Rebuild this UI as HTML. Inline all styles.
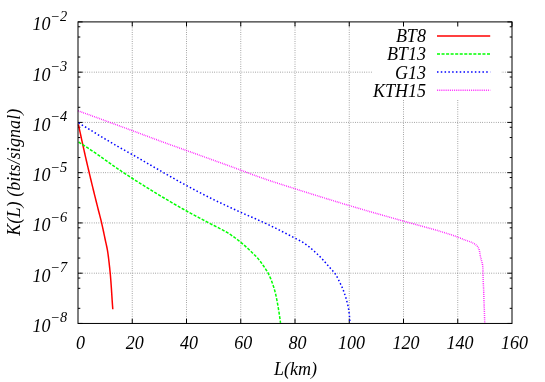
<!DOCTYPE html>
<html><head><meta charset="utf-8"><title>plot</title>
<style>html,body{margin:0;padding:0;background:#fff;}svg{display:block;will-change:transform;}</style>
</head><body>
<svg width="545" height="382" viewBox="0 0 545 382">
<rect x="0" y="0" width="545" height="382" fill="#fff"/>
<g stroke="#000" stroke-width="0.75" stroke-dasharray="0.757 1.514" fill="none" opacity="0.62">
<path d="M78.0,273.19H512.0"/>
<path d="M78.0,222.93H512.0"/>
<path d="M78.0,172.67H512.0"/>
<path d="M78.0,122.42H512.0"/>
<path d="M78.0,72.16H512.0"/>
<path d="M132.25,323.45V21.9"/>
<path d="M186.50,323.45V21.9"/>
<path d="M240.75,323.45V21.9"/>
<path d="M295.00,323.45V21.9"/>
<path d="M349.25,323.45V21.9"/>
<path d="M403.50,323.45V21.9"/>
<path d="M457.75,323.45V21.9"/>
</g>
<rect x="372" y="22.70" width="129" height="77.30" fill="#fff"/>
<g stroke="#000" stroke-width="1" fill="none">
<path d="M78.0,323.45h4.6M512.0,323.45h-4.6"/>
<path d="M78.0,308.32h2.3M512.0,308.32h-2.3"/>
<path d="M78.0,288.32h2.3M512.0,288.32h-2.3"/>
<path d="M78.0,278.06h2.3M512.0,278.06h-2.3"/>
<path d="M78.0,273.19h4.6M512.0,273.19h-4.6"/>
<path d="M78.0,258.06h2.3M512.0,258.06h-2.3"/>
<path d="M78.0,238.06h2.3M512.0,238.06h-2.3"/>
<path d="M78.0,227.80h2.3M512.0,227.80h-2.3"/>
<path d="M78.0,222.93h4.6M512.0,222.93h-4.6"/>
<path d="M78.0,207.80h2.3M512.0,207.80h-2.3"/>
<path d="M78.0,187.80h2.3M512.0,187.80h-2.3"/>
<path d="M78.0,177.55h2.3M512.0,177.55h-2.3"/>
<path d="M78.0,172.67h4.6M512.0,172.67h-4.6"/>
<path d="M78.0,157.55h2.3M512.0,157.55h-2.3"/>
<path d="M78.0,137.55h2.3M512.0,137.55h-2.3"/>
<path d="M78.0,127.29h2.3M512.0,127.29h-2.3"/>
<path d="M78.0,122.42h4.6M512.0,122.42h-4.6"/>
<path d="M78.0,107.29h2.3M512.0,107.29h-2.3"/>
<path d="M78.0,87.29h2.3M512.0,87.29h-2.3"/>
<path d="M78.0,77.03h2.3M512.0,77.03h-2.3"/>
<path d="M78.0,72.16h4.6M512.0,72.16h-4.6"/>
<path d="M78.0,57.03h2.3M512.0,57.03h-2.3"/>
<path d="M78.0,37.03h2.3M512.0,37.03h-2.3"/>
<path d="M78.0,26.77h2.3M512.0,26.77h-2.3"/>
<path d="M78.0,21.90h4.6M512.0,21.90h-4.6"/>
<path d="M132.25,323.45v-4.6M132.25,21.9v4.6"/>
<path d="M186.50,323.45v-4.6M186.50,21.9v4.6"/>
<path d="M240.75,323.45v-4.6M240.75,21.9v4.6"/>
<path d="M295.00,323.45v-4.6M295.00,21.9v4.6"/>
<path d="M349.25,323.45v-4.6M349.25,21.9v4.6"/>
<path d="M403.50,323.45v-4.6M403.50,21.9v4.6"/>
<path d="M457.75,323.45v-4.6M457.75,21.9v4.6"/>
<path d="M512.0,21.9v4.6"/>
</g>
<path d="M78.40,124.40 L78.73,125.95 L79.06,127.50 L79.39,129.04 L79.72,130.59 L80.05,132.14 L80.39,133.69 L80.72,135.24 L81.06,136.78 L81.40,138.33 L81.73,139.88 L82.07,141.42 L82.41,142.97 L82.75,144.51 L83.09,146.06 L83.44,147.61 L83.78,149.15 L84.12,150.70 L84.47,152.24 L84.82,153.79 L85.16,155.33 L85.51,156.87 L85.87,158.42 L86.22,159.96 L86.58,161.50 L86.93,163.04 L87.29,164.59 L87.66,166.13 L88.02,167.67 L88.38,169.21 L88.75,170.75 L89.11,172.29 L89.48,173.83 L89.85,175.37 L90.21,176.91 L90.58,178.45 L90.95,179.99 L91.32,181.53 L91.69,183.07 L92.06,184.61 L92.43,186.14 L92.81,187.68 L93.18,189.22 L93.56,190.76 L93.93,192.30 L94.31,193.83 L94.69,195.37 L95.07,196.91 L95.45,198.44 L95.83,199.98 L96.22,201.52 L96.60,203.05 L96.99,204.59 L97.38,206.12 L97.76,207.66 L98.15,209.19 L98.54,210.73 L98.94,212.26 L99.34,213.79 L99.74,215.32 L100.13,216.86 L100.52,218.39 L100.91,219.93 L101.28,221.46 L101.64,223.00 L101.99,224.55 L102.34,226.09 L102.68,227.64 L103.01,229.19 L103.34,230.73 L103.67,232.28 L103.99,233.83 L104.31,235.38 L104.64,236.93 L104.96,238.48 L105.29,240.03 L105.63,241.58 L105.98,243.13 L106.32,244.67 L106.66,246.22 L106.98,247.77 L107.28,249.32 L107.55,250.88 L107.79,252.44 L108.02,254.01 L108.23,255.58 L108.44,257.15 L108.63,258.72 L108.82,260.29 L109.00,261.87 L109.18,263.44 L109.35,265.01 L109.53,266.59 L109.70,268.16 L109.86,269.73 L110.02,271.31 L110.18,272.89 L110.33,274.46 L110.47,276.04 L110.60,277.62 L110.73,279.19 L110.85,280.77 L110.97,282.35 L111.08,283.93 L111.19,285.51 L111.30,287.09 L111.41,288.67 L111.52,290.25 L111.62,291.83 L111.72,293.41 L111.82,294.99 L111.92,296.57 L112.02,298.15 L112.12,299.73 L112.22,301.31 L112.33,302.89 L112.44,304.46 L112.56,306.04 L112.68,307.62 L112.80,309.20" stroke="#ff0000" stroke-width="1.5" fill="none"/>
<path d="M78.60,142.00 L79.80,142.77 L81.00,143.54 L82.20,144.31 L83.40,145.09 L84.59,145.87 L85.79,146.65 L86.98,147.43 L88.17,148.21 L89.36,149.00 L90.55,149.79 L91.73,150.58 L92.92,151.37 L94.10,152.17 L95.28,152.97 L96.45,153.78 L97.63,154.59 L98.80,155.40 L99.96,156.22 L101.13,157.04 L102.30,157.86 L103.46,158.69 L104.62,159.52 L105.78,160.34 L106.95,161.17 L108.11,162.00 L109.27,162.82 L110.43,163.65 L111.60,164.47 L112.76,165.30 L113.93,166.12 L115.10,166.93 L116.27,167.75 L117.44,168.56 L118.62,169.36 L119.80,170.16 L120.98,170.96 L122.16,171.75 L123.35,172.55 L124.54,173.34 L125.73,174.12 L126.92,174.90 L128.12,175.68 L129.31,176.46 L130.51,177.23 L131.71,178.00 L132.92,178.76 L134.12,179.53 L135.33,180.29 L136.53,181.05 L137.74,181.81 L138.94,182.57 L140.15,183.33 L141.36,184.08 L142.57,184.84 L143.78,185.60 L144.99,186.35 L146.20,187.10 L147.41,187.86 L148.63,188.61 L149.84,189.36 L151.06,190.10 L152.27,190.85 L153.49,191.60 L154.71,192.34 L155.92,193.08 L157.14,193.83 L158.36,194.57 L159.58,195.30 L160.81,196.04 L162.03,196.78 L163.25,197.51 L164.48,198.24 L165.70,198.97 L166.93,199.70 L168.15,200.43 L169.38,201.15 L170.61,201.88 L171.84,202.60 L173.07,203.32 L174.31,204.03 L175.54,204.75 L176.77,205.46 L178.01,206.17 L179.24,206.88 L180.48,207.59 L181.72,208.30 L182.96,209.00 L184.20,209.70 L185.44,210.40 L186.69,211.09 L187.94,211.78 L189.19,212.46 L190.44,213.14 L191.69,213.82 L192.95,214.49 L194.21,215.17 L195.47,215.84 L196.73,216.50 L197.99,217.17 L199.25,217.83 L200.51,218.50 L201.78,219.16 L203.04,219.83 L204.30,220.49 L205.56,221.15 L206.83,221.82 L208.09,222.48 L209.35,223.15 L210.61,223.82 L211.87,224.48 L213.15,225.13 L214.42,225.78 L215.70,226.42 L216.98,227.06 L218.26,227.70 L219.53,228.35 L220.81,229.00 L222.07,229.66 L223.33,230.33 L224.58,231.02 L225.81,231.72 L227.04,232.43 L228.25,233.17 L229.45,233.93 L230.63,234.71 L231.81,235.51 L232.98,236.33 L234.14,237.17 L235.29,238.02 L236.43,238.88 L237.57,239.76 L238.69,240.64 L239.81,241.52 L240.91,242.42 L242.01,243.32 L243.10,244.24 L244.18,245.18 L245.25,246.13 L246.31,247.08 L247.36,248.05 L248.41,249.02 L249.45,250.00 L250.48,250.98 L251.51,251.96 L252.54,252.95 L253.57,253.95 L254.59,254.95 L255.59,255.97 L256.58,257.00 L257.54,258.05 L258.48,259.12 L259.38,260.21 L260.26,261.33 L261.11,262.48 L261.94,263.64 L262.76,264.82 L263.56,266.00 L264.36,267.18 L265.16,268.36 L265.95,269.56 L266.73,270.76 L267.47,271.98 L268.15,273.22 L268.79,274.48 L269.40,275.77 L269.99,277.07 L270.55,278.38 L271.09,279.71 L271.61,281.05 L272.11,282.39 L272.58,283.73 L273.04,285.08 L273.48,286.43 L273.91,287.79 L274.31,289.16 L274.71,290.54 L275.08,291.92 L275.43,293.30 L275.76,294.68 L276.07,296.07 L276.37,297.47 L276.65,298.86 L276.92,300.27 L277.19,301.67 L277.44,303.07 L277.70,304.48 L277.94,305.88 L278.19,307.29 L278.42,308.69 L278.65,310.10 L278.88,311.51 L279.10,312.92 L279.31,314.33 L279.52,315.74 L279.73,317.15 L279.93,318.56 L280.13,319.97 L280.32,321.39 L280.50,322.80" stroke="#00ff00" stroke-width="1.5" fill="none" stroke-dasharray="3.028 1.514"/>
<path d="M78.50,122.80 L79.75,123.57 L81.01,124.34 L82.26,125.11 L83.52,125.88 L84.77,126.65 L86.03,127.41 L87.28,128.18 L88.54,128.94 L89.80,129.71 L91.06,130.47 L92.31,131.23 L93.57,131.99 L94.83,132.75 L96.09,133.51 L97.35,134.27 L98.61,135.03 L99.87,135.79 L101.14,136.54 L102.40,137.30 L103.66,138.05 L104.92,138.81 L106.19,139.57 L107.45,140.32 L108.71,141.07 L109.98,141.83 L111.24,142.58 L112.51,143.33 L113.77,144.08 L115.04,144.82 L116.31,145.56 L117.58,146.30 L118.86,147.04 L120.13,147.78 L121.41,148.50 L122.69,149.23 L123.97,149.95 L125.26,150.66 L126.55,151.37 L127.83,152.09 L129.12,152.80 L130.40,153.52 L131.69,154.24 L132.97,154.96 L134.24,155.69 L135.52,156.42 L136.80,157.15 L138.07,157.88 L139.35,158.62 L140.62,159.35 L141.90,160.09 L143.17,160.83 L144.44,161.57 L145.72,162.30 L146.99,163.04 L148.26,163.78 L149.53,164.52 L150.80,165.26 L152.08,166.00 L153.35,166.74 L154.62,167.48 L155.89,168.21 L157.17,168.95 L158.44,169.68 L159.72,170.42 L160.99,171.15 L162.27,171.88 L163.55,172.61 L164.83,173.34 L166.10,174.07 L167.38,174.80 L168.66,175.53 L169.93,176.26 L171.21,176.99 L172.49,177.72 L173.77,178.45 L175.05,179.18 L176.33,179.90 L177.61,180.63 L178.89,181.35 L180.17,182.07 L181.46,182.79 L182.74,183.50 L184.03,184.21 L185.32,184.91 L186.62,185.62 L187.91,186.32 L189.20,187.01 L190.50,187.71 L191.80,188.40 L193.10,189.10 L194.40,189.78 L195.70,190.47 L197.00,191.16 L198.30,191.84 L199.61,192.52 L200.92,193.20 L202.22,193.87 L203.53,194.54 L204.84,195.21 L206.16,195.87 L207.47,196.54 L208.78,197.19 L210.10,197.85 L211.42,198.50 L212.74,199.15 L214.06,199.80 L215.38,200.44 L216.71,201.08 L218.03,201.72 L219.36,202.35 L220.69,202.99 L222.02,203.62 L223.35,204.25 L224.68,204.87 L226.01,205.50 L227.34,206.12 L228.68,206.74 L230.01,207.36 L231.35,207.98 L232.68,208.60 L234.02,209.22 L235.36,209.83 L236.69,210.45 L238.03,211.06 L239.37,211.67 L240.70,212.28 L242.04,212.89 L243.39,213.50 L244.73,214.09 L246.08,214.69 L247.42,215.28 L248.77,215.87 L250.12,216.46 L251.47,217.05 L252.82,217.63 L254.17,218.22 L255.52,218.81 L256.86,219.41 L258.21,220.00 L259.55,220.60 L260.89,221.20 L262.23,221.81 L263.57,222.43 L264.90,223.05 L266.23,223.68 L267.56,224.31 L268.88,224.95 L270.21,225.58 L271.53,226.22 L272.85,226.87 L274.18,227.52 L275.50,228.17 L276.82,228.82 L278.13,229.47 L279.45,230.13 L280.76,230.79 L282.08,231.46 L283.39,232.12 L284.70,232.79 L286.01,233.46 L287.32,234.13 L288.63,234.81 L289.93,235.49 L291.24,236.17 L292.54,236.85 L293.84,237.53 L295.15,238.22 L296.45,238.90 L297.76,239.58 L299.08,240.26 L300.38,240.95 L301.66,241.67 L302.92,242.41 L304.15,243.20 L305.36,244.02 L306.55,244.88 L307.72,245.77 L308.88,246.68 L310.03,247.62 L311.16,248.57 L312.29,249.53 L313.40,250.50 L314.50,251.47 L315.59,252.45 L316.67,253.45 L317.74,254.46 L318.79,255.49 L319.83,256.54 L320.87,257.59 L321.89,258.65 L322.90,259.72 L323.89,260.80 L324.86,261.90 L325.82,263.02 L326.77,264.14 L327.72,265.26 L328.68,266.39 L329.64,267.50 L330.62,268.60 L331.64,269.68 L332.66,270.76 L333.65,271.85 L334.57,272.98 L335.41,274.16 L336.18,275.40 L336.91,276.68 L337.60,277.99 L338.27,279.31 L338.92,280.64 L339.57,281.96 L340.22,283.28 L340.85,284.61 L341.47,285.95 L342.07,287.30 L342.65,288.65 L343.20,290.01 L343.72,291.38 L344.22,292.76 L344.71,294.15 L345.18,295.55 L345.63,296.95 L346.06,298.36 L346.46,299.78 L346.84,301.20 L347.21,302.62 L347.57,304.05 L347.91,305.49 L348.22,306.93 L348.49,308.37 L348.72,309.82 L348.91,311.28 L349.09,312.73 L349.25,314.20 L349.40,315.66 L349.54,317.13 L349.67,318.60 L349.79,320.07 L349.90,321.53 L350.00,323.00" stroke="#0000ff" stroke-width="1.5" fill="none" stroke-dasharray="1.514 2.271"/>
<path d="M78.00,110.80 L79.18,111.22 L80.36,111.65 L81.54,112.07 L82.71,112.50 L83.89,112.92 L85.07,113.35 L86.25,113.77 L87.43,114.20 L88.61,114.62 L89.78,115.05 L90.96,115.48 L92.14,115.91 L93.32,116.33 L94.49,116.76 L95.67,117.19 L96.85,117.62 L98.03,118.04 L99.20,118.47 L100.38,118.90 L101.56,119.33 L102.73,119.76 L103.91,120.19 L105.09,120.62 L106.26,121.05 L107.44,121.48 L108.62,121.91 L109.79,122.34 L110.97,122.77 L112.15,123.20 L113.32,123.64 L114.50,124.07 L115.67,124.50 L116.85,124.93 L118.02,125.36 L119.20,125.80 L120.38,126.23 L121.55,126.66 L122.73,127.10 L123.90,127.53 L125.08,127.96 L126.25,128.40 L127.43,128.83 L128.60,129.27 L129.78,129.70 L130.95,130.13 L132.13,130.57 L133.30,131.00 L134.48,131.44 L135.65,131.88 L136.82,132.32 L138.00,132.76 L139.17,133.20 L140.34,133.64 L141.51,134.08 L142.69,134.52 L143.86,134.96 L145.03,135.41 L146.20,135.85 L147.37,136.29 L148.55,136.73 L149.72,137.17 L150.89,137.61 L152.06,138.05 L153.24,138.49 L154.41,138.93 L155.58,139.37 L156.76,139.81 L157.93,140.24 L159.11,140.67 L160.29,141.10 L161.46,141.53 L162.64,141.96 L163.82,142.39 L164.99,142.82 L166.17,143.24 L167.35,143.67 L168.53,144.09 L169.71,144.51 L170.89,144.93 L172.07,145.36 L173.25,145.78 L174.43,146.20 L175.61,146.62 L176.79,147.04 L177.97,147.46 L179.15,147.88 L180.33,148.30 L181.51,148.72 L182.69,149.15 L183.87,149.57 L185.05,149.99 L186.22,150.41 L187.40,150.84 L188.58,151.26 L189.76,151.69 L190.94,152.11 L192.12,152.54 L193.30,152.96 L194.48,153.38 L195.65,153.81 L196.83,154.23 L198.01,154.65 L199.19,155.08 L200.37,155.50 L201.55,155.92 L202.73,156.35 L203.91,156.77 L205.09,157.20 L206.26,157.62 L207.44,158.04 L208.62,158.47 L209.80,158.89 L210.98,159.32 L212.16,159.74 L213.34,160.16 L214.52,160.59 L215.69,161.01 L216.87,161.44 L218.05,161.86 L219.23,162.29 L220.41,162.72 L221.58,163.14 L222.76,163.57 L223.94,164.00 L225.12,164.42 L226.30,164.85 L227.47,165.28 L228.65,165.70 L229.83,166.13 L231.00,166.56 L232.18,166.99 L233.36,167.42 L234.54,167.85 L235.71,168.28 L236.89,168.71 L238.06,169.14 L239.24,169.57 L240.42,170.01 L241.59,170.44 L242.76,170.88 L243.94,171.32 L245.11,171.76 L246.28,172.20 L247.45,172.65 L248.62,173.09 L249.80,173.54 L250.97,173.98 L252.14,174.43 L253.31,174.87 L254.49,175.30 L255.66,175.74 L256.84,176.17 L258.01,176.60 L259.19,177.02 L260.37,177.43 L261.56,177.84 L262.74,178.25 L263.92,178.66 L265.11,179.06 L266.30,179.46 L267.48,179.86 L268.67,180.26 L269.86,180.66 L271.05,181.05 L272.24,181.44 L273.43,181.83 L274.62,182.22 L275.81,182.61 L277.00,183.00 L278.20,183.38 L279.39,183.76 L280.58,184.15 L281.78,184.53 L282.97,184.91 L284.16,185.29 L285.36,185.67 L286.55,186.05 L287.75,186.43 L288.94,186.81 L290.13,187.19 L291.33,187.57 L292.52,187.95 L293.72,188.33 L294.91,188.71 L296.10,189.09 L297.30,189.47 L298.49,189.85 L299.68,190.23 L300.88,190.61 L302.07,190.98 L303.27,191.36 L304.46,191.74 L305.65,192.12 L306.85,192.50 L308.04,192.87 L309.24,193.25 L310.43,193.63 L311.63,194.00 L312.82,194.38 L314.02,194.75 L315.21,195.13 L316.41,195.50 L317.61,195.88 L318.80,196.25 L320.00,196.62 L321.19,197.00 L322.39,197.37 L323.59,197.74 L324.78,198.11 L325.98,198.48 L327.18,198.85 L328.37,199.22 L329.57,199.59 L330.77,199.96 L331.97,200.32 L333.16,200.69 L334.36,201.06 L335.56,201.42 L336.76,201.79 L337.96,202.15 L339.15,202.52 L340.35,202.88 L341.55,203.24 L342.75,203.61 L343.95,203.97 L345.15,204.33 L346.35,204.69 L347.55,205.05 L348.75,205.41 L349.95,205.76 L351.15,206.12 L352.35,206.48 L353.55,206.83 L354.75,207.19 L355.96,207.54 L357.16,207.89 L358.36,208.25 L359.56,208.60 L360.76,208.95 L361.97,209.30 L363.17,209.65 L364.37,210.00 L365.58,210.35 L366.78,210.69 L367.98,211.04 L369.19,211.39 L370.39,211.73 L371.60,212.08 L372.80,212.42 L374.00,212.77 L375.21,213.11 L376.41,213.46 L377.62,213.80 L378.82,214.14 L380.03,214.49 L381.23,214.83 L382.44,215.17 L383.64,215.51 L384.85,215.86 L386.05,216.20 L387.26,216.54 L388.46,216.88 L389.67,217.22 L390.88,217.56 L392.08,217.90 L393.29,218.24 L394.49,218.58 L395.70,218.92 L396.90,219.26 L398.11,219.61 L399.31,219.95 L400.52,220.29 L401.73,220.63 L402.93,220.97 L404.14,221.31 L405.34,221.65 L406.55,221.98 L407.76,222.32 L408.97,222.65 L410.17,222.98 L411.38,223.31 L412.59,223.64 L413.80,223.97 L415.01,224.30 L416.22,224.62 L417.43,224.95 L418.64,225.28 L419.85,225.60 L421.06,225.93 L422.27,226.26 L423.48,226.59 L424.69,226.92 L425.89,227.25 L427.10,227.58 L428.31,227.92 L429.52,228.25 L430.72,228.59 L431.93,228.93 L433.13,229.27 L434.34,229.62 L435.54,229.97 L436.74,230.32 L437.94,230.67 L439.14,231.03 L440.34,231.39 L441.54,231.76 L442.74,232.12 L443.93,232.49 L445.13,232.86 L446.33,233.24 L447.52,233.62 L448.71,234.00 L449.91,234.39 L451.10,234.78 L452.29,235.17 L453.47,235.58 L454.66,235.99 L455.84,236.40 L457.02,236.82 L458.19,237.26 L459.35,237.72 L460.51,238.19 L461.67,238.67 L462.83,239.15 L463.99,239.62 L465.16,240.06 L466.35,240.46 L467.55,240.85 L468.73,241.25 L469.90,241.70 L471.07,242.17 L472.24,242.67 L473.36,243.21 L474.44,243.82 L475.48,244.53 L476.48,245.33 L477.34,246.22 L478.04,247.24 L478.62,248.37 L479.07,249.54 L479.42,250.75 L479.69,251.97 L479.88,253.21 L480.06,254.45 L480.28,255.68 L480.55,256.90 L480.85,258.12 L481.17,259.33 L481.49,260.55 L481.82,261.76 L482.17,262.97 L482.45,264.18 L482.63,265.42 L482.78,266.66 L482.88,267.91 L482.93,269.16 L482.95,270.42 L482.97,271.67 L482.99,272.92 L483.02,274.18 L483.05,275.43 L483.09,276.68 L483.12,277.93 L483.16,279.18 L483.21,280.44 L483.25,281.69 L483.30,282.94 L483.35,284.19 L483.42,285.44 L483.49,286.69 L483.55,287.94 L483.62,289.20 L483.68,290.45 L483.72,291.70 L483.75,292.95 L483.78,294.20 L483.81,295.46 L483.84,296.71 L483.87,297.96 L483.91,299.21 L483.95,300.46 L484.00,301.72 L484.05,302.97 L484.11,304.22 L484.16,305.47 L484.21,306.72 L484.26,307.97 L484.31,309.23 L484.35,310.48 L484.39,311.73 L484.43,312.98 L484.47,314.23 L484.51,315.49 L484.54,316.74 L484.58,317.99 L484.61,319.24 L484.64,320.50 L484.67,321.75 L484.70,323.00" stroke="#ff00ff" stroke-width="1.5" fill="none" stroke-dasharray="0.757 1.135"/>
<rect x="78.0" y="21.9" width="434.00" height="301.55" fill="none" stroke="#000" stroke-width="1"/>
<g font-family="'Liberation Serif', serif" font-style="italic" font-size="18" fill="#000">
<path d="M437,35.9H490.2" stroke="#ff0000" stroke-width="1.5" fill="none"/>
<text x="425.9" y="42.2" text-anchor="end">BT8</text>
<path d="M437,53.9H490.2" stroke="#00ff00" stroke-width="1.5" fill="none" stroke-dasharray="3.028 1.514"/>
<text x="425.9" y="60.4" text-anchor="end">BT13</text>
<path d="M437,72.1H490.2" stroke="#0000ff" stroke-width="1.5" fill="none" stroke-dasharray="1.514 2.271"/>
<text x="425.9" y="78.7" text-anchor="end">G13</text>
<path d="M437,90.3H490.2" stroke="#ff00ff" stroke-width="1.5" fill="none" stroke-dasharray="0.757 1.135"/>
<text x="425.9" y="96.9" text-anchor="end">KTH15</text>
<text x="32.4" y="331.8">10<tspan font-size="14.4" dy="-9.4">−8</tspan></text>
<text x="32.4" y="281.6">10<tspan font-size="14.4" dy="-9.4">−7</tspan></text>
<text x="32.4" y="231.3">10<tspan font-size="14.4" dy="-9.4">−6</tspan></text>
<text x="32.4" y="181.1">10<tspan font-size="14.4" dy="-9.4">−5</tspan></text>
<text x="32.4" y="130.8">10<tspan font-size="14.4" dy="-9.4">−4</tspan></text>
<text x="32.4" y="80.6">10<tspan font-size="14.4" dy="-9.4">−3</tspan></text>
<text x="32.4" y="30.3">10<tspan font-size="14.4" dy="-9.4">−2</tspan></text>
<text x="80.4" y="348.8" text-anchor="middle">0</text>
<text x="134.7" y="348.8" text-anchor="middle">20</text>
<text x="188.9" y="348.8" text-anchor="middle">40</text>
<text x="243.2" y="348.8" text-anchor="middle">60</text>
<text x="297.4" y="348.8" text-anchor="middle">80</text>
<text x="351.6" y="348.8" text-anchor="middle">100</text>
<text x="405.9" y="348.8" text-anchor="middle">120</text>
<text x="460.1" y="348.8" text-anchor="middle">140</text>
<text x="514.4" y="348.8" text-anchor="middle">160</text>
<text x="295.4" y="375.4" text-anchor="middle">L(km)</text>
<text transform="translate(20.4,172.2) rotate(-90)" text-anchor="middle" letter-spacing="0.09">K(L) (bits/signal)</text>
</g>
</svg>
</body></html>
